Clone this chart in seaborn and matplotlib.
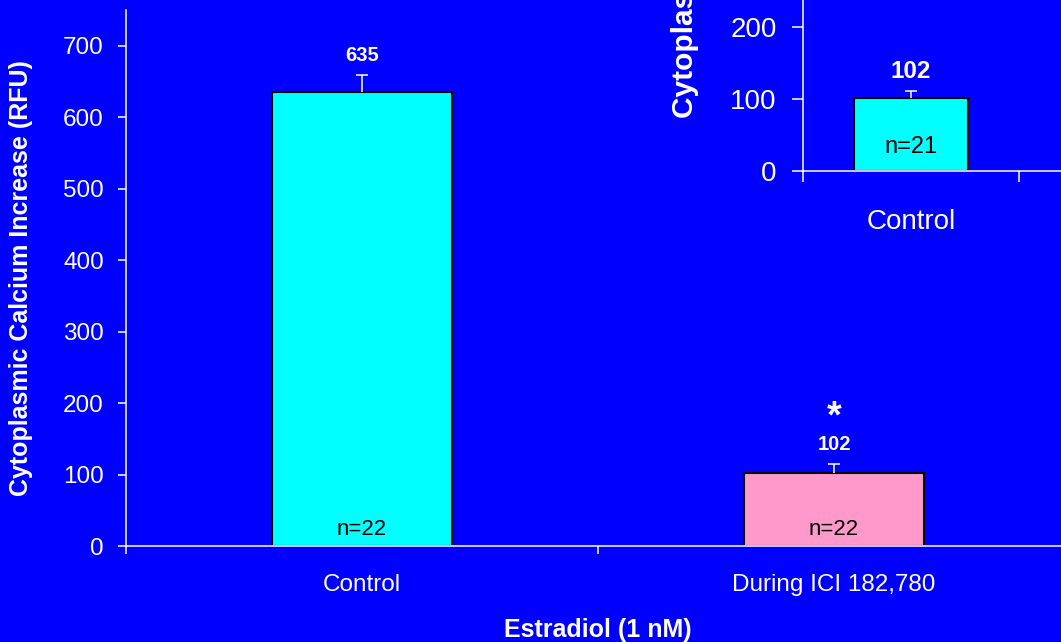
import matplotlib
matplotlib.use("Agg")
import matplotlib.pyplot as plt
import seaborn as sns
from matplotlib.ticker import FixedLocator

# ---- data ----
categories = ["Control", "During ICI 182,780"]
means = [635, 102]
sems = [24, 13]
n_counts = [22, 22]
significant = [False, True]

inset_categories = ["Control"]
inset_means = [102]
inset_sems = [9]
inset_n = [21]

main_yticks = [0, 100, 200, 300, 400, 500, 600, 700]
inset_yticks = [0, 100, 200]

# ---- style ----
BG = "#0000FF"
bar_colors = ["#00FFFF", "#FF99CC"]
inset_colors = ["#00FFFF"]

sns.set_style("ticks")
plt.rcParams["font.family"] = ["Liberation Sans", "DejaVu Sans"]
plt.rcParams["axes.facecolor"] = BG
plt.rcParams["figure.facecolor"] = BG

fig = plt.figure(figsize=(10.61, 6.42), dpi=100)


def style_axes(ax, tick_fs, ylen, xlen, ypad, xpad):
    ax.set_facecolor(BG)
    for side in ("top", "right"):
        ax.spines[side].set_visible(False)
    for side in ("left", "bottom"):
        ax.spines[side].set_color("white")
        ax.spines[side].set_linewidth(1.1)
    ax.tick_params(axis="y", colors="white", labelsize=tick_fs, length=ylen,
                   width=1.1, direction="out", pad=ypad)
    ax.tick_params(axis="x", which="major", colors="white", labelsize=tick_fs,
                   length=0, pad=xpad)
    ax.tick_params(axis="x", which="minor", colors="white", length=xlen,
                   width=1.1, direction="out")
    ax.xaxis.set_minor_locator(FixedLocator([-0.5, 0.5, 1.5]))


def draw_bars(ax, cats, vals, errs, colors, width):
    sns.barplot(x=cats, y=vals, hue=cats, palette=colors, legend=False,
                width=width, saturation=1, edgecolor="black", linewidth=1.5,
                errorbar=None, ax=ax, zorder=2)
    xs = list(range(len(cats)))
    # upper-only error bars: hide the cap that sits on the bar top
    _, caps, _ = ax.errorbar(xs, vals, yerr=[[0] * len(vals), errs], fmt="none",
                             ecolor="white", elinewidth=1.1, capsize=4,
                             capthick=1.1, zorder=3)
    caps[0].set_visible(False)
    return xs


# ---- main panel ----
ax = fig.add_axes([0.11876, 0.14953, 0.88973, 0.83489])
xs = draw_bars(ax, categories, means, sems, bar_colors, 0.383)
ax.set_xlim(-0.5, 1.5)
ax.set_ylim(0, 750)
ax.set_yticks(main_yticks)
style_axes(ax, 17.5, 6, 6, 10, 20)

for x, m, e, n, sig in zip(xs, means, sems, n_counts, significant):
    ax.annotate(f"{m}", (x, m + e), xytext=(0, 14), textcoords="offset points",
                ha="center", va="center", color="white", fontsize=14.5,
                fontweight="bold")
    ax.annotate(f"n={n}", (x, 0), xytext=(0, 12), textcoords="offset points",
                ha="center", va="center", color="black", fontsize=16)
    if sig:
        ax.annotate("*", (x, m + e), xytext=(0, 26), textcoords="offset points",
                    ha="center", va="baseline", color="white", fontsize=27,
                    fontweight="bold")

ax.set_ylabel("Cytoplasmic Calcium Increase (RFU)", color="white",
              fontsize=18, fontweight="bold")
ax.yaxis.set_label_coords(-0.0985, 0.5)
ax.set_xlabel("Estradiol (1 nM)", color="white", fontsize=18,
              fontweight="bold")
ax.xaxis.set_label_coords(0.5, -0.135)

# ---- inset panel ----
axi = fig.add_axes([0.75683, 0.73364, 0.40716, 0.78505])
xi = draw_bars(axi, inset_categories, inset_means, inset_sems, inset_colors, 0.528)
axi.set_xlim(-0.5, 1.5)
axi.set_ylim(0, 700)
axi.set_yticks(inset_yticks)
style_axes(axi, 20, 8, 8, 11, 27)

for x, m, e, n in zip(xi, inset_means, inset_sems, inset_n):
    axi.annotate(f"{m}", (x, m + e), xytext=(0, 14), textcoords="offset points",
                 ha="center", va="center", color="white", fontsize=17.5,
                 fontweight="bold")
    axi.annotate(f"n={n}", (x, 0), xytext=(0, 17), textcoords="offset points",
                 ha="center", va="center", color="black", fontsize=17)

fig.text(685 / 1061, (642 - 118) / 642, "Cytoplasmic Calcium Increase (RFU)",
         rotation=90, ha="center", va="bottom", color="white",
         fontsize=21.5, fontweight="bold")

fig.savefig("out.png", dpi=100, facecolor=BG)
